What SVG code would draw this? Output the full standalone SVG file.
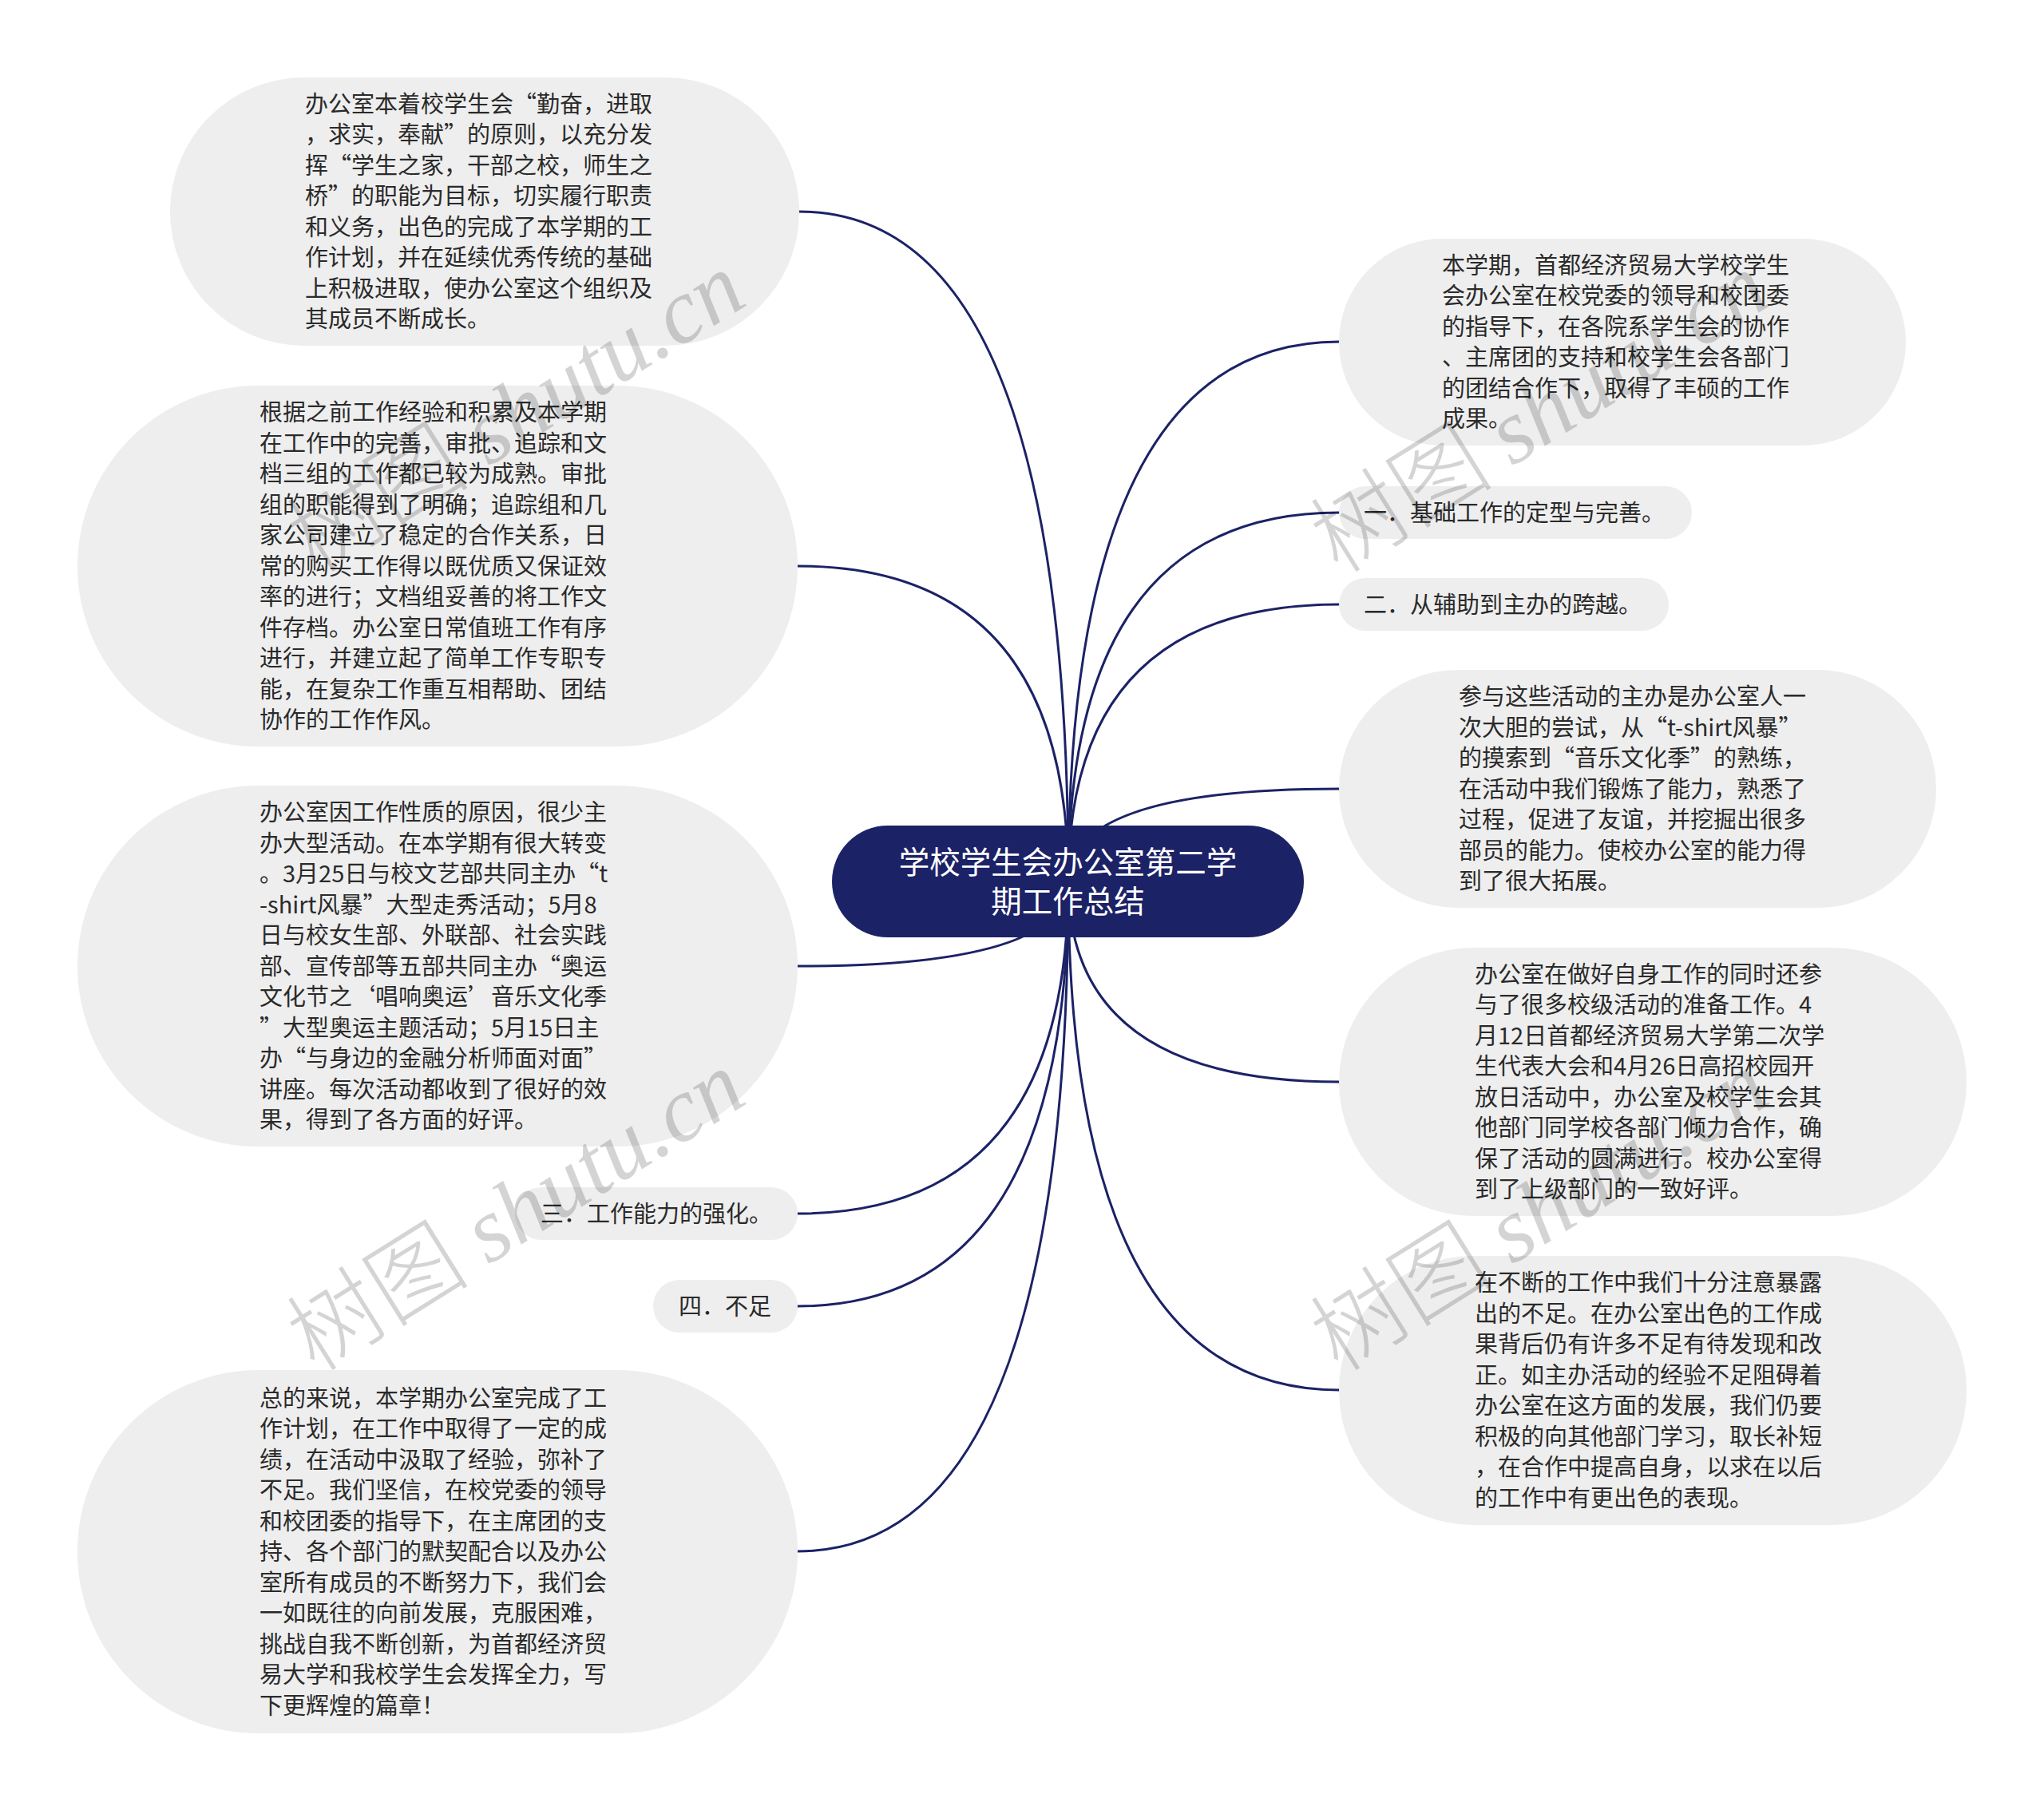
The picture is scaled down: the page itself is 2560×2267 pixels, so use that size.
<svg xmlns="http://www.w3.org/2000/svg" width="2560" height="2267" viewBox="0 0 2560 2267">
<style>
.bg{fill:#ffffff}
.box{fill:#eeeeee}
.t{font-family:"Noto Sans CJK SC","Noto Sans",sans-serif;font-size:29px;fill:#2a2a2a}
.root{fill:#1c2266}
.rt{font-family:"Noto Sans CJK SC","Noto Sans",sans-serif;font-size:38.5px;fill:#ffffff;text-anchor:middle}
.conn{fill:none;stroke:#1c2266;stroke-width:3;stroke-linecap:round}
.wm{font-size:115px;fill:#000000;fill-opacity:0.17;text-anchor:middle}
.wmc{font-family:"Noto Sans CJK SC",sans-serif;font-weight:300}
.wml{font-family:"Liberation Serif",serif;font-style:italic}
</style>
<rect class="bg" x="0" y="0" width="2560" height="2267"/>
<g id="connectors">
<path class="conn" d="M1338,1104 Q1338,265 1001,265"/>
<path class="conn" d="M1338,1104 Q1338,709 999,709"/>
<path class="conn" d="M1338,1104 Q1338,1210 999,1210"/>
<path class="conn" d="M1338,1104 Q1338,1520 999,1520"/>
<path class="conn" d="M1338,1104 Q1338,1636 999,1636"/>
<path class="conn" d="M1338,1104 Q1338,1943 999,1943"/>
<path class="conn" d="M1338,1104 Q1338,428 1677,428"/>
<path class="conn" d="M1338,1104 Q1338,642 1677,642"/>
<path class="conn" d="M1338,1104 Q1338,757 1677,757"/>
<path class="conn" d="M1338,1104 Q1338,988 1677,988"/>
<path class="conn" d="M1338,1104 Q1338,1355 1677,1355"/>
<path class="conn" d="M1338,1104 Q1338,1741 1677,1741"/>
</g>
<g id="root">
<rect class="root" x="1042" y="1034" width="591" height="140" rx="70"/>
<text class="rt" x="1337.5" y="1094">学校学生会办公室第二学</text>
<text class="rt" x="1337.5" y="1143">期工作总结</text>
</g>
<g id="n1">
<rect class="box" x="213" y="97" width="788" height="336" rx="168"/>
<text class="t" x="382" y="140.5"><tspan x="382">办公室本着校学生会“勤奋，进取</tspan><tspan x="382" dy="38.5">，求实，奉献”的原则，以充分发</tspan><tspan x="382" dy="38.5">挥“学生之家，干部之校，师生之</tspan><tspan x="382" dy="38.5">桥”的职能为目标，切实履行职责</tspan><tspan x="382" dy="38.5">和义务，出色的完成了本学期的工</tspan><tspan x="382" dy="38.5">作计划，并在延续优秀传统的基础</tspan><tspan x="382" dy="38.5">上积极进取，使办公室这个组织及</tspan><tspan x="382" dy="38.5">其成员不断成长。</tspan></text>
</g>
<g id="n2">
<rect class="box" x="97" y="483" width="902" height="452" rx="226"/>
<text class="t" x="325" y="527"><tspan x="325">根据之前工作经验和积累及本学期</tspan><tspan x="325" dy="38.5">在工作中的完善，审批、追踪和文</tspan><tspan x="325" dy="38.5">档三组的工作都已较为成熟。审批</tspan><tspan x="325" dy="38.5">组的职能得到了明确；追踪组和几</tspan><tspan x="325" dy="38.5">家公司建立了稳定的合作关系，日</tspan><tspan x="325" dy="38.5">常的购买工作得以既优质又保证效</tspan><tspan x="325" dy="38.5">率的进行；文档组妥善的将工作文</tspan><tspan x="325" dy="38.5">件存档。办公室日常值班工作有序</tspan><tspan x="325" dy="38.5">进行，并建立起了简单工作专职专</tspan><tspan x="325" dy="38.5">能，在复杂工作重互相帮助、团结</tspan><tspan x="325" dy="38.5">协作的工作作风。</tspan></text>
</g>
<g id="n3">
<rect class="box" x="97" y="984" width="902" height="452" rx="226"/>
<text class="t" x="325" y="1028"><tspan x="325">办公室因工作性质的原因，很少主</tspan><tspan x="325" dy="38.5">办大型活动。在本学期有很大转变</tspan><tspan x="325" dy="38.5">。3月25日与校文艺部共同主办“t</tspan><tspan x="325" dy="38.5">-shirt风暴”大型走秀活动；5月8</tspan><tspan x="325" dy="38.5">日与校女生部、外联部、社会实践</tspan><tspan x="325" dy="38.5">部、宣传部等五部共同主办“奥运</tspan><tspan x="325" dy="38.5">文化节之‘唱响奥运’音乐文化季</tspan><tspan x="325" dy="38.5">”大型奥运主题活动；5月15日主</tspan><tspan x="325" dy="38.5">办“与身边的金融分析师面对面”</tspan><tspan x="325" dy="38.5">讲座。每次活动都收到了很好的效</tspan><tspan x="325" dy="38.5">果，得到了各方面的好评。</tspan></text>
</g>
<g id="n4">
<rect class="box" x="645" y="1487" width="354" height="66" rx="33"/>
<text class="t" x="677" y="1530.5">三．工作能力的强化。</text>
</g>
<g id="n5">
<rect class="box" x="818" y="1603" width="181" height="66" rx="33"/>
<text class="t" x="850" y="1646.5">四．不足</text>
</g>
<g id="n6">
<rect class="box" x="97" y="1716" width="902" height="455" rx="227"/>
<text class="t" x="325" y="1761.5"><tspan x="325">总的来说，本学期办公室完成了工</tspan><tspan x="325" dy="38.5">作计划，在工作中取得了一定的成</tspan><tspan x="325" dy="38.5">绩，在活动中汲取了经验，弥补了</tspan><tspan x="325" dy="38.5">不足。我们坚信，在校党委的领导</tspan><tspan x="325" dy="38.5">和校团委的指导下，在主席团的支</tspan><tspan x="325" dy="38.5">持、各个部门的默契配合以及办公</tspan><tspan x="325" dy="38.5">室所有成员的不断努力下，我们会</tspan><tspan x="325" dy="38.5">一如既往的向前发展，克服困难，</tspan><tspan x="325" dy="38.5">挑战自我不断创新，为首都经济贸</tspan><tspan x="325" dy="38.5">易大学和我校学生会发挥全力，写</tspan><tspan x="325" dy="38.5">下更辉煌的篇章！</tspan></text>
</g>
<g id="r1">
<rect class="box" x="1677" y="299" width="710" height="259" rx="129.5"/>
<text class="t" x="1806" y="342.75"><tspan x="1806">本学期，首都经济贸易大学校学生</tspan><tspan x="1806" dy="38.5">会办公室在校党委的领导和校团委</tspan><tspan x="1806" dy="38.5">的指导下，在各院系学生会的协作</tspan><tspan x="1806" dy="38.5">、主席团的支持和校学生会各部门</tspan><tspan x="1806" dy="38.5">的团结合作下，取得了丰硕的工作</tspan><tspan x="1806" dy="38.5">成果。</tspan></text>
</g>
<g id="r2">
<rect class="box" x="1677" y="609" width="442" height="66" rx="33"/>
<text class="t" x="1708" y="652.5">一．基础工作的定型与完善。</text>
</g>
<g id="r3">
<rect class="box" x="1677" y="724" width="413" height="66" rx="33"/>
<text class="t" x="1708" y="767.5">二．从辅助到主办的跨越。</text>
</g>
<g id="r4">
<rect class="box" x="1677" y="839" width="748" height="298" rx="149"/>
<text class="t" x="1827" y="883"><tspan x="1827">参与这些活动的主办是办公室人一</tspan><tspan x="1827" dy="38.5">次大胆的尝试，从“t-shirt风暴”</tspan><tspan x="1827" dy="38.5">的摸索到“音乐文化季”的熟练，</tspan><tspan x="1827" dy="38.5">在活动中我们锻炼了能力，熟悉了</tspan><tspan x="1827" dy="38.5">过程，促进了友谊，并挖掘出很多</tspan><tspan x="1827" dy="38.5">部员的能力。使校办公室的能力得</tspan><tspan x="1827" dy="38.5">到了很大拓展。</tspan></text>
</g>
<g id="r5">
<rect class="box" x="1677" y="1187" width="786" height="336" rx="168"/>
<text class="t" x="1847" y="1230.75"><tspan x="1847">办公室在做好自身工作的同时还参</tspan><tspan x="1847" dy="38.5">与了很多校级活动的准备工作。4</tspan><tspan x="1847" dy="38.5">月12日首都经济贸易大学第二次学</tspan><tspan x="1847" dy="38.5">生代表大会和4月26日高招校园开</tspan><tspan x="1847" dy="38.5">放日活动中，办公室及校学生会其</tspan><tspan x="1847" dy="38.5">他部门同学校各部门倾力合作，确</tspan><tspan x="1847" dy="38.5">保了活动的圆满进行。校办公室得</tspan><tspan x="1847" dy="38.5">到了上级部门的一致好评。</tspan></text>
</g>
<g id="r6">
<rect class="box" x="1677" y="1573" width="786" height="337" rx="168"/>
<text class="t" x="1847" y="1617.25"><tspan x="1847">在不断的工作中我们十分注意暴露</tspan><tspan x="1847" dy="38.5">出的不足。在办公室出色的工作成</tspan><tspan x="1847" dy="38.5">果背后仍有许多不足有待发现和改</tspan><tspan x="1847" dy="38.5">正。如主办活动的经验不足阻碍着</tspan><tspan x="1847" dy="38.5">办公室在这方面的发展，我们仍要</tspan><tspan x="1847" dy="38.5">积极的向其他部门学习，取长补短</tspan><tspan x="1847" dy="38.5">，在合作中提高自身，以求在以后</tspan><tspan x="1847" dy="38.5">的工作中有更出色的表现。</tspan></text>
</g>
<g id="watermarks">
<text class="wm" x="667" y="550" transform="rotate(-32 667 550)"><tspan class="wmc">树图 </tspan><tspan class="wml">shutu.cn</tspan></text>
<text class="wm" x="1949" y="550" transform="rotate(-32 1949 550)"><tspan class="wmc">树图 </tspan><tspan class="wml">shutu.cn</tspan></text>
<text class="wm" x="667" y="1550" transform="rotate(-32 667 1550)"><tspan class="wmc">树图 </tspan><tspan class="wml">shutu.cn</tspan></text>
<text class="wm" x="1949" y="1550" transform="rotate(-32 1949 1550)"><tspan class="wmc">树图 </tspan><tspan class="wml">shutu.cn</tspan></text>
</g>
</svg>
